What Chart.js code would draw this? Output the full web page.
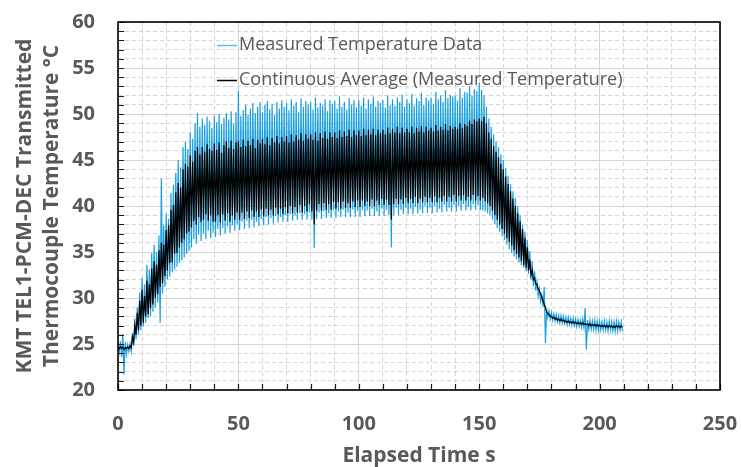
<!DOCTYPE html>
<html><head><meta charset="utf-8">
<script src="https://cdn.jsdelivr.net/npm/chart.js@4.4.1/dist/chart.umd.min.js"></script>
<style>html,body{margin:0;padding:0;background:#fff;}#wrap{width:741px;height:467px;}</style>
</head><body><div id="wrap"><canvas id="c" width="741" height="467"></canvas></div>
<script>
const seriesLabels = ['Measured Temperature Data', 'Continuous Average (Measured Temperature)'];
const xTitle = 'Elapsed Time s';
const yTitle = ['KMT TEL1-PCM-DEC Transmitted', 'Thermocouple Temperature °C'];
const xTickLabels = ['0', '50', '100', '150', '200', '250'];
const yTickLabels = ['20', '25', '30', '35', '40', '45', '50', '55', '60'];

// per-second peaks (high) and troughs (low), t = 0 .. 209 s
const measuredHigh = [25.0,25.3,26.1,25.2,24.9,25.0,26.2,27.8,29.0,30.6,
 32.2,31.5,33.6,33.1,34.9,35.8,35.0,36.8,43.0,37.9,
 39.2,38.6,41.4,42.3,43.6,45.0,44.2,46.4,47.0,46.2,
 48.0,47.3,49.0,50.1,48.6,49.5,48.8,49.7,49.2,48.5,
 49.8,49.1,50.0,48.9,49.6,50.1,49.4,50.3,49.0,50.2,
 52.5,49.8,50.4,51.0,49.9,50.6,51.2,50.1,50.8,51.3,
 50.2,51.0,51.4,50.5,51.1,49.9,51.3,50.6,51.5,50.8,
 51.2,50.4,51.6,50.9,51.3,50.2,51.7,50.8,51.4,51.0,
 51.3,50.5,51.8,50.7,51.2,50.9,51.6,50.3,51.5,51.1,
 51.4,50.6,51.9,50.8,51.3,50.5,51.7,51.0,51.5,50.7,
 51.5,50.9,51.8,50.6,51.6,51.1,51.9,50.8,51.4,51.2,
 51.5,50.7,52.0,51.0,51.6,50.9,51.8,51.3,52.1,50.8,
 51.6,51.2,52.2,50.9,51.7,51.4,52.3,51.0,51.8,51.5,
 51.8,51.1,52.4,51.6,52.0,51.3,52.6,51.7,52.1,51.9,
 52.0,51.5,52.8,51.8,52.4,52.3,53.0,52.0,52.7,52.5,
 53.4,52.6,52.0,50.8,49.5,48.6,47.8,47.0,46.4,45.6,
 45.0,44.1,43.3,42.4,41.6,40.9,40.0,39.0,38.0,37.2,
 36.3,35.1,34.0,32.9,31.8,31.0,30.3,31.2,28.8,28.6,
 28.4,28.3,28.2,28.1,28.1,28.0,27.9,27.9,27.8,27.8,
 27.7,27.7,27.6,27.7,28.9,27.6,27.6,27.5,27.6,27.5,
 27.5,27.4,27.5,27.4,27.5,27.4,27.4,27.5,27.4,27.4];
const measuredLow = [24.1,23.6,21.7,23.9,24.2,24.2,24.8,25.5,26.0,26.5,
 26.9,27.3,27.8,28.0,28.5,29.0,29.5,27.3,30.5,31.2,
 32.0,32.3,32.8,33.1,33.4,33.8,34.1,34.4,34.8,35.1,
 35.5,36.4,35.9,36.9,36.2,37.0,36.4,37.3,36.5,37.1,
 36.6,37.5,36.8,37.6,37.0,37.8,37.1,37.9,37.3,38.0,
 37.4,38.3,37.5,38.4,37.6,38.5,37.7,38.3,37.8,38.6,
 37.9,38.8,38.0,38.7,38.1,38.9,38.2,38.8,38.3,39.0,
 38.3,39.1,38.4,39.0,38.5,39.2,38.5,39.1,38.5,39.3,
 38.5,35.4,38.6,39.3,38.6,39.4,38.7,39.2,38.7,39.5,
 38.7,39.4,38.8,39.6,38.8,39.3,38.8,39.6,38.8,39.5,
 38.8,39.6,38.9,39.5,38.9,39.7,38.9,39.4,38.9,39.7,
 38.9,39.6,39.0,35.5,39.0,39.8,39.0,39.6,39.1,39.8,
 39.1,39.7,39.1,39.9,39.2,39.6,39.2,40.0,39.2,39.8,
 39.2,40.0,39.3,39.7,39.3,40.1,39.4,39.8,39.4,40.1,
 39.4,40.0,39.5,40.2,39.5,39.9,39.5,40.2,39.6,40.1,
 39.6,39.5,39.4,39.2,39.0,38.5,38.0,37.6,37.2,36.7,
 36.3,35.8,35.3,34.9,34.5,34.2,33.9,33.6,33.3,32.9,
 32.6,32.0,31.3,30.8,30.2,29.6,29.0,25.1,27.9,27.7,
 27.6,27.5,27.4,27.3,27.3,27.2,27.1,27.1,27.0,27.0,
 26.9,26.9,26.8,26.8,24.4,26.6,26.6,26.6,26.5,26.5,
 26.5,26.5,26.5,26.4,26.5,26.4,26.4,26.4,26.5,26.4];
const averageHigh = [24.7,24.7,24.7,24.6,24.7,24.8,25.8,27.0,28.4,29.7,
 30.9,30.2,31.9,31.5,33.2,34.0,33.6,35.2,36.0,35.8,
 37.4,37.9,39.6,40.1,41.5,42.5,42.0,44.0,44.6,44.3,
 45.5,44.8,46.0,46.4,45.6,46.4,45.9,46.7,46.2,46.0,
 46.8,46.1,46.9,45.8,46.6,47.0,46.3,47.1,46.2,46.9,
 47.0,46.4,47.2,46.5,47.1,46.6,47.3,46.3,47.2,46.8,
 47.3,46.7,47.5,46.6,47.4,46.9,47.6,46.8,47.5,47.0,
 47.6,46.9,47.8,47.0,47.7,47.2,47.9,47.1,47.8,47.3,
 47.8,47.2,48.0,47.1,47.9,47.4,48.1,47.3,48.0,47.5,
 48.0,47.4,48.2,47.5,48.1,47.6,48.3,47.5,48.2,47.7,
 48.2,47.6,48.4,47.7,48.3,47.8,48.4,47.7,48.3,47.9,
 48.3,47.8,48.5,47.9,48.4,48.0,48.6,47.9,48.5,48.0,
 48.4,48.0,48.6,47.9,48.5,48.1,48.7,48.0,48.6,48.2,
 48.5,48.1,48.8,48.2,48.6,48.3,48.9,48.2,48.7,48.4,
 48.6,48.4,49.0,48.5,48.9,48.7,49.3,48.9,49.4,49.2,
 49.5,49.2,49.7,49.0,48.0,47.3,46.5,45.9,45.3,44.6,
 44.0,43.2,42.4,41.6,40.8,40.0,39.2,38.3,37.5,36.5,
 35.5,34.2,33.0,32.2,31.5,30.8,30.1,29.3,28.5,28.2,
 28.0,27.9,27.8,27.7,27.7,27.6,27.5,27.5,27.4,27.4,
 27.4,27.3,27.3,27.3,27.2,27.2,27.2,27.1,27.1,27.1,
 27.05,27.0,27.0,27.0,27.0,26.95,26.95,27.0,26.95,26.95];
const averageLow = [24.5,24.5,24.4,24.5,24.5,24.6,25.2,26.0,26.5,27.0,
 27.3,28.0,28.2,28.9,29.3,30.0,30.4,31.2,31.6,32.4,
 33.0,33.8,33.9,34.8,34.9,35.5,36.0,36.4,37.0,37.2,
 37.7,38.4,38.0,38.8,38.3,38.5,39.1,38.4,39.0,38.3,
 38.3,39.0,38.2,39.1,38.4,39.2,38.3,39.0,38.5,39.3,
 38.5,39.3,38.6,39.4,38.7,39.5,38.8,39.4,38.8,39.6,
 38.9,39.7,39.0,39.6,39.0,39.8,39.1,39.7,39.1,39.9,
 39.2,40.0,39.2,39.9,39.3,40.1,39.3,40.0,39.4,40.2,
 39.4,38.0,39.5,40.2,39.5,40.3,39.6,40.2,39.6,40.4,
 39.7,40.4,39.7,40.5,39.8,40.3,39.8,40.5,39.9,40.6,
 39.9,40.6,40.0,40.5,40.0,40.7,40.0,40.6,40.1,40.8,
 40.1,40.7,40.1,38.5,40.2,40.8,40.2,40.7,40.2,40.9,
 40.3,40.8,40.3,41.0,40.3,40.8,40.4,41.0,40.4,40.9,
 40.4,41.1,40.4,40.9,40.5,41.1,40.5,41.0,40.5,41.2,
 40.5,41.1,40.6,41.2,40.6,41.0,40.6,41.2,40.6,41.1,
 40.6,40.9,40.5,40.3,40.0,39.5,39.0,38.5,38.0,37.5,
 37.0,36.5,36.1,35.7,35.2,34.8,34.4,34.0,33.6,33.3,
 33.0,32.5,32.0,31.5,31.0,30.4,29.7,29.0,28.3,28.0,
 27.8,27.7,27.6,27.5,27.5,27.4,27.35,27.3,27.3,27.25,
 27.2,27.2,27.15,27.1,27.1,27.0,27.0,27.0,26.95,26.95,
 26.9,26.9,26.85,26.85,26.85,26.8,26.8,26.85,26.8,26.8];

// each second: peak at t, trough at t + 0.5
function oscillation(high, low) {
  const pts = [];
  for (let i = 0; i < high.length; i++) {
    pts.push({ x: i, y: high[i] });
    pts.push({ x: i + 0.5, y: low[i] });
  }
  return pts;
}

const TXT = '#595959';
const FONT = "'Open Sans', 'Noto Sans', sans-serif";
const BLUE = '#1a9fe0';
const LEGEND_BLUE = '#62bce8';

const frameAndTicks = {
  id: 'frameAndTicks',
  afterDatasetsDraw(chart) {
    const { ctx, chartArea: a, scales } = chart;
    ctx.save();
    ctx.strokeStyle = '#1a1a1a';
    ctx.lineWidth = 1.2;
    ctx.beginPath();
    scales.y.ticks.forEach(t => {
      const y = Math.round(scales.y.getPixelForValue(t.value)) + 0.5;
      ctx.moveTo(a.left, y); ctx.lineTo(a.left + 6, y);
    });
    scales.x.ticks.forEach(t => {
      const x = Math.round(scales.x.getPixelForValue(t.value)) + 0.5;
      ctx.moveTo(x, a.bottom); ctx.lineTo(x, a.bottom - 6);
    });
    ctx.stroke();
    ctx.lineWidth = 1.6;
    ctx.strokeStyle = '#000';
    ctx.strokeRect(a.left, a.top, a.right - a.left, a.bottom - a.top);
    ctx.restore();
  }
};

const insideLegend = {
  id: 'insideLegend',
  afterDraw(chart) {
    const { ctx, chartArea: a } = chart;
    const colors = [LEGEND_BLUE, '#000'];
    const x0 = a.left + 99;
    const rows = [a.top + 23, a.top + 58];
    ctx.save();
    ctx.font = "18px " + FONT;
    ctx.textBaseline = 'middle';
    ctx.fillStyle = TXT;
    seriesLabels.forEach((lab, i) => {
      ctx.strokeStyle = colors[i];
      ctx.lineWidth = 1.5;
      ctx.beginPath();
      ctx.moveTo(x0, rows[i] + 0.5); ctx.lineTo(x0 + 20, rows[i] + 0.5);
      ctx.stroke();
      ctx.fillText(lab, x0 + 22, rows[i]);
    });
    ctx.restore();
  }
};

function gridColor(ctx) { return '#d6d6d6'; }
function gridDash(step) {
  return (ctx) => (ctx.tick && Math.abs(ctx.tick.value % step) < 1e-6) ? [] : [4, 3];
}

new Chart(document.getElementById('c'), {
  type: 'line',
  data: {
    datasets: [
      { label: seriesLabels[0], data: oscillation(measuredHigh, measuredLow), borderColor: BLUE, borderWidth: 1.2, pointRadius: 0, tension: 0, order: 2 },
      { label: seriesLabels[1], data: oscillation(averageHigh, averageLow), borderColor: '#000', borderWidth: 1.2, pointRadius: 0, tension: 0, order: 1 }
    ]
  },
  options: {
    responsive: false, animation: false, devicePixelRatio: 1,
    parsing: false, normalized: true,
    layout: { padding: { left: 8, right: 21, top: 22, bottom: 0 } },
    plugins: { legend: { display: false }, tooltip: { enabled: false } },
    scales: {
      x: {
        type: 'linear', min: 0, max: 250,
        afterFit(s) { s.height = 77; s.paddingLeft = 0; s.paddingRight = 0; },
        ticks: {
          stepSize: 10, autoSkip: false, maxRotation: 0, padding: 22,
          color: TXT, font: { family: FONT, size: 20, weight: 'bold' },
          callback: (v) => (v % 50 === 0 ? xTickLabels[v / 50] : '')
        },
        grid: { color: gridColor, lineWidth: 1, drawTicks: false },
        border: { display: false, dash: gridDash(50) },
        title: { display: true, text: xTitle, color: TXT, font: { family: FONT, size: 21, weight: 'bold', lineHeight: 1.05 }, padding: { top: 0, bottom: 0 } }
      },
      y: {
        min: 20, max: 60,
        afterFit(s) { s.width = 110; s.paddingTop = 0; s.paddingBottom = 0; },
        ticks: {
          stepSize: 1, autoSkip: false, padding: 23,
          color: TXT, font: { family: FONT, size: 20, weight: 'bold' },
          callback: (v) => (v % 5 === 0 ? yTickLabels[(v - 20) / 5] : '')
        },
        grid: { color: gridColor, lineWidth: 1, drawTicks: false },
        border: { display: false, dash: gridDash(5) },
        title: { display: true, text: yTitle, color: TXT, font: { family: FONT, size: 21, weight: 'bold', lineHeight: 1.3 }, padding: { top: 3, bottom: 0 } }
      }
    }
  },
  plugins: [frameAndTicks, insideLegend]
});
</script>
</body></html>
